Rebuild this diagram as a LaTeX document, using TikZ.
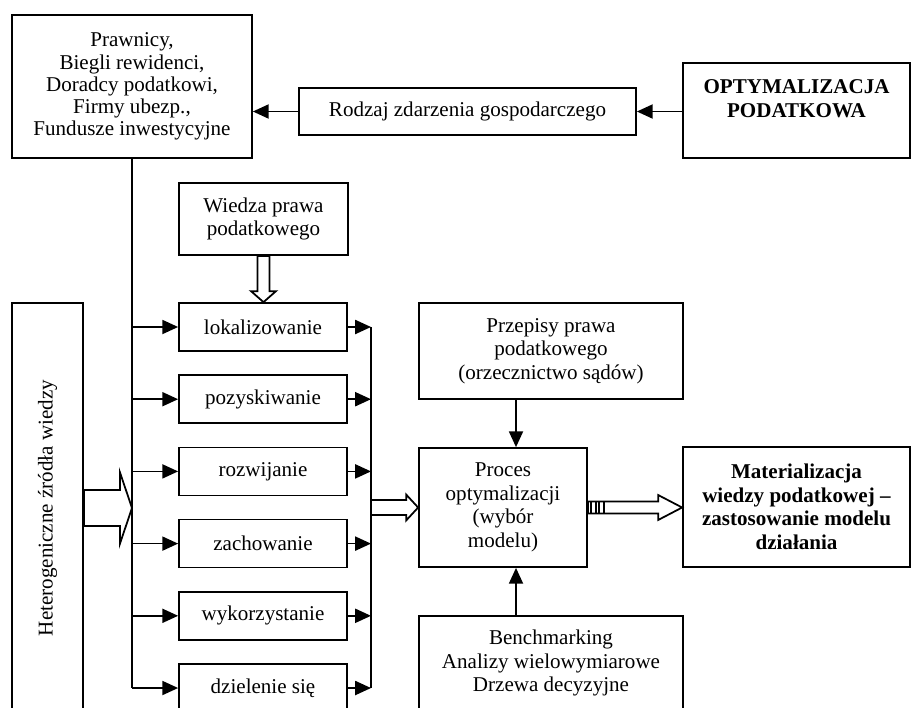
\documentclass[tikz,border=0pt]{standalone}
\usepackage{fontspec}
\setmainfont{Liberation Serif}
\usetikzlibrary{arrows.meta,calc}

\def\px{0.57pt}

% hollow block arrows: start, end, shaft half width, head half width, head length (px)
\newcommand{\hollowh}[5]{%
  \draw[hollow] let \p1=(#1), \p2=(#2) in
    (\x1,\y1+#3*\px) -- (\x2-#5*\px,\y1+#3*\px) -- (\x2-#5*\px,\y1+#4*\px) -- (\x2,\y1)
    -- (\x2-#5*\px,\y1-#4*\px) -- (\x2-#5*\px,\y1-#3*\px) -- (\x1,\y1-#3*\px) -- cycle;}
\newcommand{\hollowv}[5]{%
  \draw[hollow] let \p1=(#1), \p2=(#2) in
    (\x1-#3*\px,\y1) -- (\x1-#3*\px,\y2+#5*\px) -- (\x1-#4*\px,\y2+#5*\px) -- (\x1,\y2)
    -- (\x1+#4*\px,\y2+#5*\px) -- (\x1+#3*\px,\y2+#5*\px) -- (\x1+#3*\px,\y1) -- cycle;}

\begin{document}
\begin{tikzpicture}[x=\px, y=-\px]
  \tikzset{
    box/.style={draw, line width=1pt, inner sep=0pt, align=center,
      font=\fontsize{12}{13.4}\selectfont},
    arr/.style={line width=1pt, -{Triangle[length=9pt, width=8pt]}},
    hollow/.style={line width=1pt, fill=white, line join=miter}}

  \useasboundingbox (0,0) rectangle (912,707);
  \clip (0,0) rectangle (912,707);

  % top row
  \node[box, minimum width=240*\px, minimum height=143*\px,
    font=\fontsize{12}{12.6}\selectfont] (prawnicy) at (132,86.5)
    {Prawnicy,\\Biegli rewidenci,\\Doradcy podatkowi,\\Firmy ubezp.,\\Fundusze inwestycyjne};
  \node[box, minimum width=337*\px, minimum height=47*\px] (rodzaj) at (467.5,111.5)
    {Rodzaj zdarzenia gospodarczego};
  \node[box, minimum width=227*\px, minimum height=95*\px] (opt) at (796.5,110.5)
    {\textbf{OPTYMALIZACJA}\\\textbf{PODATKOWA}\\\mbox{}};

  \draw[arr] (opt.west |- rodzaj.east) -- (rodzaj.east);
  \draw[arr] (rodzaj.west) -- (prawnicy.east |- rodzaj.west);

  % knowledge processes
  \node[box, minimum width=169*\px, minimum height=72*\px] (wiedza) at (263.5,219)
    {Wiedza prawa\\podatkowego};
  \node[box, rotate=90, minimum width=410*\px, minimum height=71*\px] (het) at (47.5,508)
    {Heterogeniczne źródła wiedzy};

  \foreach \n/\t [count=\i from 0] in {lok/lokalizowanie, poz/pozyskiwanie,
      roz/rozwijanie, zach/zachowanie, wyk/wykorzystanie, dziel/dzielenie się}
    \node[box, minimum width=168*\px, minimum height=48*\px] (\n) at (263,{327+72.2*\i}) {\t};

  \coordinate (bus) at (371,327);
  \draw[line width=1pt] (prawnicy.south) -- (prawnicy.south |- dziel.west);
  \draw[line width=1pt] (bus |- lok.east) -- (bus |- dziel.east);
  \foreach \n in {lok,poz,roz,zach,wyk,dziel}{
    \draw[arr] (prawnicy.south |- \n.west) -- (\n.west);
    \draw[arr] (\n.east) -- (bus |- \n.east);
  }

  \hollowv{wiedza.south}{lok.north}{6}{12.5}{11}
  \hollowh{het.south}{prawnicy.south |- het.south}{18}{35.5}{12}

  % optimisation
  \node[box, minimum width=264*\px, minimum height=96*\px] (przepisy) at (551,351)
    {Przepisy prawa\\podatkowego\\(orzecznictwo sądów)};
  \node[box, minimum width=168*\px, minimum height=119*\px] (proces) at (503,507.5)
    {Proces\\optymalizacji\\(wybór\\modelu)};
  \node[box, minimum width=227*\px, minimum height=120*\px] (mat) at (796.5,507)
    {\textbf{Materializacja}\\\textbf{wiedzy podatkowej –}\\\textbf{zastosowanie modelu}\\\textbf{działania}};
  \node[box, minimum width=264*\px, minimum height=94*\px] (bench) at (551,663)
    {Benchmarking\\Analizy wielowymiarowe\\Drzewa decyzyjne};

  \coordinate (vx) at (516,448);
  \draw[arr] (vx |- przepisy.south) -- (vx |- proces.north);
  \draw[arr] (vx |- bench.north) -- (vx |- proces.south);

  \hollowh{bus |- proces.west}{proces.west}{7.5}{13}{12}
  \hollowh{proces.east}{mat.west}{6}{12.5}{24}
  \foreach \d in {3,8,11,16}
    \draw[line width=0.7pt] ($(proces.east)+(\d,-6)$) -- ++(0,12);
\end{tikzpicture}
\end{document}
